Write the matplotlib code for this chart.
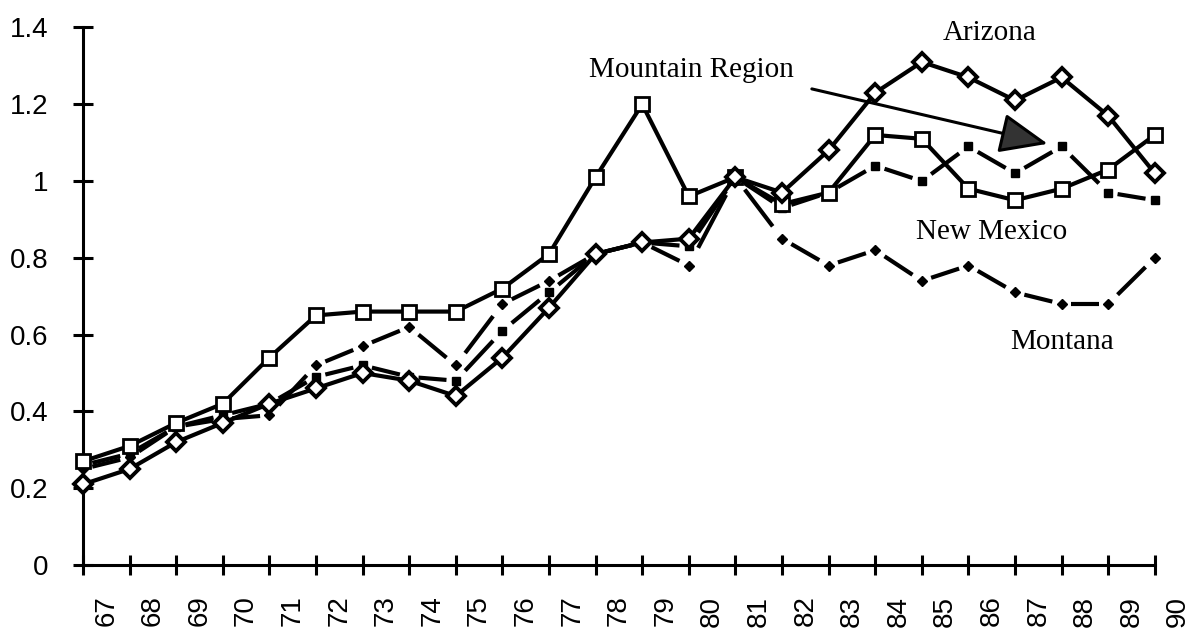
import matplotlib
matplotlib.use("Agg")
import matplotlib.pyplot as plt
import numpy as np

years = ["67", "68", "69", "70", "71", "72", "73", "74", "75", "76", "77", "78",
         "79", "80", "81", "82", "83", "84", "85", "86", "87", "88", "89", "90"]

new_mexico = [0.27, 0.31, 0.37, 0.42, 0.54, 0.65, 0.66, 0.66, 0.66, 0.72, 0.81, 1.01,
              1.20, 0.96, 1.01, 0.94, 0.97, 1.12, 1.11, 0.98, 0.95, 0.98, 1.03, 1.12]
arizona = [0.21, 0.25, 0.32, 0.37, 0.42, 0.46, 0.50, 0.48, 0.44, 0.54, 0.67, 0.81,
           0.84, 0.85, 1.01, 0.97, 1.08, 1.23, 1.31, 1.27, 1.21, 1.27, 1.17, 1.02]
mountain = [0.26, 0.29, 0.36, 0.39, 0.42, 0.49, 0.52, 0.49, 0.48, 0.61, 0.71, 0.81,
            0.84, 0.83, 1.01, 0.93, 0.97, 1.04, 1.00, 1.09, 1.02, 1.09, 0.97, 0.95]
montana = [0.25, 0.28, 0.36, 0.38, 0.39, 0.52, 0.57, 0.62, 0.52, 0.68, 0.74, 0.81,
           0.84, 0.78, 1.01, 0.85, 0.78, 0.82, 0.74, 0.78, 0.71, 0.68, 0.68, 0.80]

x = np.arange(len(years))

fig = plt.figure(figsize=(11.98, 6.37), dpi=100)
ax = fig.add_axes([0.0576, 0.095, 0.9336, 0.892])


def gapped(xs, ys, gap=0.2):
    # line pieces that stop short of each marker
    for i in range(len(xs) - 1):
        x0, x1 = xs[i], xs[i + 1]
        y0, y1 = ys[i], ys[i + 1]
        ax.plot([x0 + gap * (x1 - x0), x1 - gap * (x1 - x0)],
                [y0 + gap * (y1 - y0), y1 - gap * (y1 - y0)],
                color="black", lw=3, solid_capstyle="butt", zorder=2)


gapped(x, montana)
ax.plot(x, montana, ls="none", marker="D", ms=5, color="black", zorder=3, clip_on=False)

gapped(x, mountain)
ax.plot(x, mountain, ls="none", marker="s", ms=6, color="black", zorder=3, clip_on=False)

ax.plot(x, new_mexico, color="black", lw=3, marker="s", ms=10, mfc="white",
        mec="black", mew=2, zorder=4, clip_on=False)
ax.plot(x, arizona, color="black", lw=3, marker="D", ms=9, mfc="white",
        mec="black", mew=2.8, zorder=5, clip_on=False)

ax.set_xlim(-0.3, 23.7)
ax.set_ylim(-0.03, 1.45)

for s in ["top", "right"]:
    ax.spines[s].set_visible(False)
ax.spines["left"].set_position(("data", 0))
ax.spines["bottom"].set_position(("data", 0))
ax.spines["left"].set_bounds(0, 1.4)
ax.spines["bottom"].set_bounds(0, 23)
ax.spines["left"].set_linewidth(2.2)
ax.spines["bottom"].set_linewidth(2.2)

ax.set_yticks([0, 0.2, 0.4, 0.6, 0.8, 1.0, 1.2, 1.4])
ax.set_yticklabels(["0", "0.2", "0.4", "0.6", "0.8", "1", "1.2", "1.4"],
                   fontsize=20, family="Liberation Sans")
ax.set_xticks(x)
ax.set_xticklabels([])
ax.set_xticks(x + 0.5, minor=True)
ax.set_xticklabels(years, minor=True, rotation=90, fontsize=20, family="Liberation Sans")
ax.tick_params(axis="both", which="major", direction="inout", length=14, width=2.2)
ax.tick_params(axis="y", which="major", pad=18)
ax.tick_params(axis="x", which="minor", length=0, pad=22)

serif = dict(family="Liberation Serif", fontsize=21, color="black", ha="center", va="center")
ax.text(19.45, 1.385, "Arizona", **serif)
ax.text(19.5, 0.867, "New Mexico", **serif)
ax.text(21.0, 0.58, "Montana", **serif)
ax.text(13.05, 1.29, "Mountain Region", **serif)
ax.annotate("", xy=(20.7, 1.097), xytext=(15.64, 1.24),
            arrowprops=dict(arrowstyle="-|>,head_length=1.2,head_width=0.5",
                            lw=2.2, color="black", fc="#333333",
                            shrinkA=0, shrinkB=0, mutation_scale=25),
            zorder=6)

fig.savefig("out.png", dpi=100)
